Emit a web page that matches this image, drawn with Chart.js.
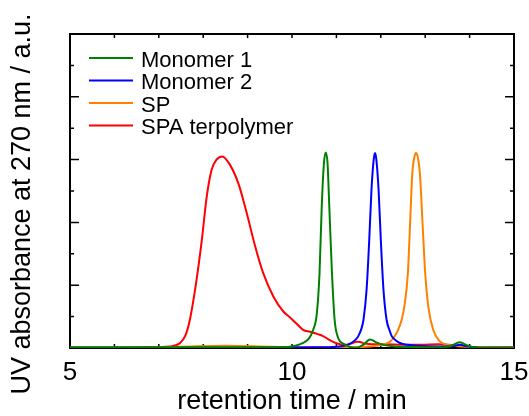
<!DOCTYPE html>
<html>
<head>
<meta charset="utf-8">
<script src="https://cdn.jsdelivr.net/npm/chart.js@4.4.1/dist/chart.umd.min.js"></script>
<style>
  html, body { margin: 0; padding: 0; background: #fff; }
  #wrap { width: 529px; height: 416px; }
</style>
</head>
<body>
<div id="wrap"><canvas id="gpc"></canvas></div>
<script>
// GPC traces (retention time in min, absorbance in a.u.)
const seriesNames = ["Monomer 1", "Monomer 2", "SP", "SPA terpolymer"];
const seriesColors = ["#008000", "#0000ff", "#ff8000", "#ff0000"];

const m1Time = [5.0, 8.0, 9.5, 9.9, 10.1, 10.25, 10.38, 10.47, 10.56, 10.62, 10.67, 10.72, 10.76, 10.80, 10.84, 10.90, 10.96, 11.04, 11.15, 11.28, 11.45, 11.6, 11.76, 11.9, 12.05, 12.3, 12.7, 13.2, 13.55, 13.78, 13.95, 14.15, 15.0];
const m1Abs  = [0.02, 0.02, 0.02, 0.03, 0.08, 0.16, 0.3, 0.55, 1.11, 2.39, 4.51, 5.9, 6.23, 5.9, 4.51, 2.39, 0.9, 0.32, 0.14, 0.05, 0.01, 0.1, 0.27, 0.18, 0.1, 0.05, 0.03, 0.02, 0.05, 0.18, 0.08, 0.01, 0.01];

const m2Time = [5.0, 9.0, 10.5, 11.0, 11.2, 11.31, 11.42, 11.49, 11.56, 11.61, 11.68, 11.74, 11.79, 11.84, 11.87, 11.90, 11.95, 12.0, 12.06, 12.13, 12.2, 12.25, 12.34, 12.43, 12.6, 12.9, 13.3, 13.6, 13.78, 13.95, 14.2, 15.0];
const m2Abs  = [0.01, 0.01, 0.02, 0.04, 0.08, 0.14, 0.25, 0.37, 0.6, 0.9, 1.86, 3.45, 5.04, 6.0, 6.21, 6.0, 5.04, 3.45, 1.86, 0.9, 0.55, 0.37, 0.24, 0.16, 0.1, 0.06, 0.05, 0.05, 0.1, 0.05, 0.01, 0.01];

const spTime = [5.0, 6.5, 7.5, 8.5, 9.5, 10.3, 11.0, 11.5, 11.91, 12.1, 12.21, 12.3, 12.39, 12.47, 12.53, 12.61, 12.66, 12.71, 12.76, 12.79, 12.83, 12.88, 12.94, 13.0, 13.07, 13.18, 13.33, 13.45, 13.6, 13.9, 14.3, 15.0];
const spAbs  = [0.01, 0.01, 0.04, 0.07, 0.04, 0.02, 0.02, 0.03, 0.07, 0.13, 0.21, 0.35, 0.58, 0.9, 1.32, 2.39, 3.98, 5.57, 6.1, 6.21, 6.1, 5.57, 3.98, 2.39, 1.32, 0.58, 0.21, 0.12, 0.08, 0.04, 0.02, 0.01];

const spaTime = [5.0, 6.0, 7.0, 7.25, 7.48, 7.6, 7.70, 7.85, 7.97, 8.08, 8.19, 8.30, 8.43, 8.60, 8.79, 8.98, 9.17, 9.35, 9.58, 9.80, 9.95, 10.10, 10.25, 10.41, 10.56, 10.70, 10.85, 11.0, 11.19, 11.33, 11.45, 11.53, 11.65, 11.8, 12.1, 12.5, 12.9, 13.3, 13.7, 14.0, 14.2, 15.0];
const spaAbs  = [0.01, 0.01, 0.03, 0.05, 0.16, 0.4, 0.9, 2.17, 3.45, 4.83, 5.68, 6.0, 6.1, 5.84, 5.25, 4.30, 3.24, 2.39, 1.64, 1.17, 0.98, 0.78, 0.58, 0.52, 0.45, 0.38, 0.25, 0.15, 0.1, 0.14, 0.2, 0.19, 0.14, 0.12, 0.12, 0.1, 0.1, 0.12, 0.08, 0.04, 0.02, 0.02];

const xTickLabels = [5, 10, 15];
const yTitle = "UV absorbance at 270 nm / a.u.";
const xTitle = "retention time / min";

const FONT = "'Liberation Sans', Arial, sans-serif";
const toPoints = (t, v) => t.map((x, i) => ({ x: x, y: v[i] }));
const traces = [[m1Time, m1Abs], [m2Time, m2Abs], [spTime, spAbs], [spaTime, spaAbs]];

// box round the plot with inward ticks on all four sides
const frame = {
  id: "frame",
  beforeDatasetsDraw(chart) {
    const { ctx, chartArea: a, scales: { x, y } } = chart;
    ctx.save();
    ctx.strokeStyle = "#000";
    ctx.lineWidth = 1.5;
    ctx.beginPath();
    x.ticks.forEach(t => {
      const px = x.getPixelForValue(t.value);
      ctx.moveTo(px, a.bottom); ctx.lineTo(px, a.bottom - 4);
      ctx.moveTo(px, a.top); ctx.lineTo(px, a.top + 4);
    });
    y.ticks.forEach(t => {
      const py = y.getPixelForValue(t.value);
      const len = t.value % 2 === 0 ? 9 : 4;
      ctx.moveTo(a.left, py); ctx.lineTo(a.left + len, py);
      ctx.moveTo(a.right, py); ctx.lineTo(a.right - len, py);
    });
    ctx.stroke();
    ctx.lineWidth = 2;
    ctx.strokeRect(a.left, a.top, a.right - a.left, a.bottom - a.top);
    ctx.restore();
  },
  afterDraw(chart) {
    const { ctx, chartArea: a } = chart;
    ctx.save();
    // y title, sits a bit lower than the plot centre in the original
    ctx.translate(23, 204);
    ctx.rotate(-Math.PI / 2);
    ctx.font = "27px " + FONT;
    ctx.fillStyle = "#000";
    ctx.textAlign = "center";
    ctx.textBaseline = "middle";
    ctx.fillText(yTitle, 0, 0);
    ctx.restore();

    // legend inside the plot, top left
    ctx.save();
    ctx.font = "22px " + FONT;
    ctx.textBaseline = "alphabetic";
    ctx.lineWidth = 2;
    chart.data.datasets.forEach((ds, i) => {
      const ly = a.top + 24 + i * 22.5;
      ctx.strokeStyle = ds.borderColor;
      ctx.beginPath();
      ctx.moveTo(a.left + 19, ly);
      ctx.lineTo(a.left + 63, ly);
      ctx.stroke();
      ctx.fillStyle = "#000";
      ctx.fillText(ds.label, a.left + 71, ly + 8.5);
    });
    ctx.restore();
  }
};

new Chart(document.getElementById("gpc"), {
  type: "line",
  data: {
    datasets: traces.map((tr, i) => ({
      label: seriesNames[i],
      data: toPoints(tr[0], tr[1]),
      borderColor: seriesColors[i],
      backgroundColor: seriesColors[i],
      borderWidth: 2,
      pointRadius: 0,
      cubicInterpolationMode: "monotone",
      fill: false
    }))
  },
  options: {
    responsive: true,
    maintainAspectRatio: false,
    animation: false,
    layout: { padding: { top: 34, right: 15, left: 0, bottom: 0 } },
    plugins: {
      legend: { display: false },
      tooltip: { enabled: false }
    },
    scales: {
      x: {
        type: "linear",
        min: 5,
        max: 15,
        grid: { display: false, drawTicks: false },
        border: { display: false },
        ticks: {
          stepSize: 1,
          autoSkip: false,
          maxRotation: 0,
          padding: 9,
          color: "#000",
          font: { family: FONT, size: 26, lineHeight: 1.2 },
          callback: v => (xTickLabels.includes(v) ? String(v) : "")
        },
        title: {
          display: true,
          text: xTitle,
          color: "#000",
          font: { family: FONT, size: 27, lineHeight: 1 },
          padding: { top: 0, bottom: 1 }
        },
        afterFit: s => { s.height = 68; s.paddingLeft = 0; s.paddingRight = 0; }
      },
      y: {
        min: 0,
        max: 10,
        grid: { display: false, drawTicks: false },
        border: { display: false },
        ticks: { display: false, stepSize: 1 },
        afterFit: s => { s.width = 70; s.paddingTop = 0; s.paddingBottom = 0; }
      }
    }
  },
  plugins: [frame]
});
</script>
</body>
</html>
